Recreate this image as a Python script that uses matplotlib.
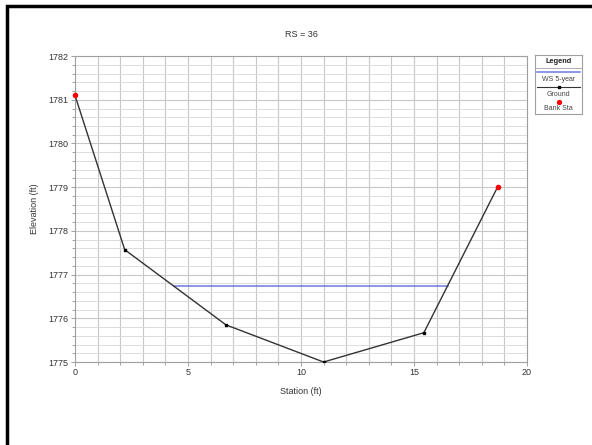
import numpy as np
import matplotlib
matplotlib.use("Agg")
from matplotlib import pyplot as plt
from matplotlib.patches import Rectangle
from matplotlib.ticker import MultipleLocator

plt.rcParams['font.family'] = ['Liberation Sans', 'DejaVu Sans']

# ground profile
station = [0.0, 2.2, 6.68, 11.0, 15.44, 18.7]
elevation = [1781.1, 1777.57, 1775.85, 1775.0, 1775.67, 1779.0]

# bank stations
bank_station = [0.0, 18.7]
bank_elev = [1781.1, 1779.0]

# water surface 5-year
ws_station = [4.4, 16.5]
ws_elev = [1776.74, 1776.74]

fig = plt.figure(figsize=(5.92, 4.45), dpi=100)
ax = fig.add_axes([0.1267, 0.1865, 0.7633, 0.6875])

ax.plot(ws_station, ws_elev, color='#6f78e0', lw=1.1, zorder=3)
ax.plot(station, elevation, color='#333333', lw=1.0, marker='s', ms=1.8,
        markerfacecolor='black', markeredgecolor='black', zorder=4)
ax.plot(bank_station, bank_elev, ls='none', marker='o', ms=3.0,
        color='#ff0000', zorder=5, clip_on=False)

ax.set_xlim(0, 20)
ax.set_ylim(1775, 1782)
ax.xaxis.set_major_locator(MultipleLocator(5))
ax.xaxis.set_minor_locator(MultipleLocator(1))
ax.yaxis.set_major_locator(MultipleLocator(1))
ax.yaxis.set_minor_locator(MultipleLocator(0.2))
ax.grid(which='major', color='#c8c8c8', lw=0.8)
ax.grid(which='minor', axis='x', color='#c8c8c8', lw=0.8)
ax.grid(which='minor', axis='y', color='#dcdcdc', lw=0.7)
ax.set_axisbelow(True)
for s in ax.spines.values():
    s.set_color('#a0a0a0')
    s.set_linewidth(0.8)
ax.tick_params(which='both', colors='#909090', labelcolor='#333333',
               labelsize=6.5, length=3, width=0.6, pad=1.5)
ax.tick_params(which='minor', length=2)

ax.set_title('RS = 36', fontsize=6.5, color='#333333', pad=14)
ax.set_xlabel('Station (ft)', fontsize=6.5, color='#333333', labelpad=7)
ax.set_ylabel('Elevation (ft)', fontsize=6.5, color='#333333', labelpad=7)

# legend panel, HEC-RAS style
lg = fig.add_axes([535 / 592, 1 - 114 / 445, 47 / 592, 59 / 445])
lg.set_xlim(0, 1)
lg.set_ylim(59, 0)
lg.set_xticks([])
lg.set_yticks([])
for s in lg.spines.values():
    s.set_color('#a0a0a0')
    s.set_linewidth(0.8)
lg.text(0.5, 6.5, 'Legend', ha='center', va='center', fontsize=5.3,
        fontweight='bold', color='#222222')
lg.plot([0, 1], [13, 13], color='#a0a0a0', lw=0.6)
lg.plot([0.05, 0.95], [17, 17], color='#6f78e0', lw=1.1)
lg.text(0.5, 24.5, 'WS 5-year', ha='center', va='center', fontsize=5.0, color='#444444')
lg.plot([0.05, 0.95], [32, 32], color='#333333', lw=0.8)
lg.plot([0.5], [32], marker='s', ms=1.8, color='black')
lg.text(0.5, 39.5, 'Ground', ha='center', va='center', fontsize=5.0, color='#444444')
lg.plot([0.5], [46.5], marker='o', ms=2.8, color='#ff0000')
lg.text(0.5, 53.5, 'Bank Sta', ha='center', va='center', fontsize=5.0, color='#444444')

# outer frame (top and left visible)
fig.add_artist(Rectangle((7 / 592, -0.1), 1.2, 1.1 - 6 / 445, fill=False,
                         lw=2.5, edgecolor='black', transform=fig.transFigure))

fig.savefig('out.png', dpi=100)
